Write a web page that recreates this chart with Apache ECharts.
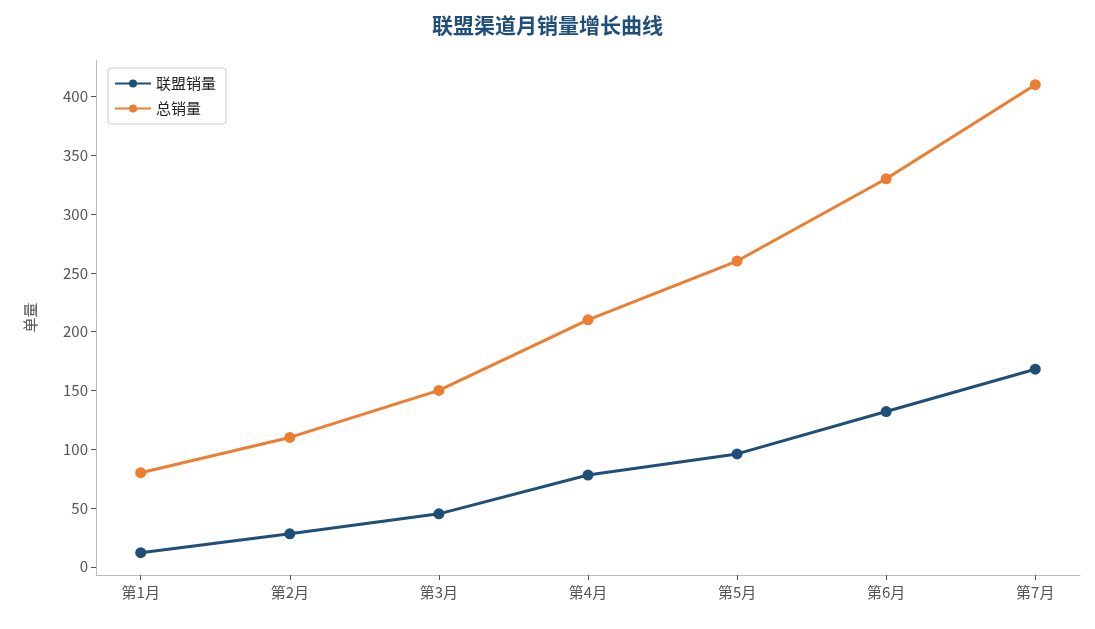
<!DOCTYPE html><html><head><meta charset="utf-8"><script src="https://cdn.jsdelivr.net/npm/echarts@6/dist/echarts.min.js"></script></head><body style="margin:0"><div id="c" style="width:1095px;height:629px"></div><script>
var categories=['第1月','第2月','第3月','第4月','第5月','第6月','第7月'];
var allianceSales=[12,28,45,78,96,132,168];
var totalSales=[80,110,150,210,260,330,410];
var yTicks=[0,50,100,150,200,250,300,350,400];
var ff='"Noto Sans CJK SC","Noto Sans",sans-serif';
var idx=categories.map(function(_,i){return i;});
var ch=echarts.init(document.getElementById('c'));
ch.setOption({
title:{text:'联盟渠道月销量增长曲线',left:'center',top:10,textStyle:{fontFamily:ff,fontSize:21,fontWeight:'bold',color:'#1f4e79'}},
legend:{left:108,top:68,orient:'vertical',itemWidth:36,itemHeight:10,itemGap:10,borderColor:'#ccc',borderWidth:1,borderRadius:3,padding:[8,10,8,6],textStyle:{fontFamily:ff,fontSize:15,color:'#222'},data:['联盟销量','总销量']},
grid:{left:96,right:15,top:60,bottom:54},
xAxis:{type:'value',min:-0.3,max:6.3,splitLine:{show:false},axisLine:{show:true,onZero:false,lineStyle:{color:'#bbb'}},
axisTick:{show:true,customValues:idx,lineStyle:{color:'#555'}},
axisLabel:{customValues:idx,formatter:function(v){return categories[Math.round(v)];},fontFamily:ff,fontSize:15,color:'#555',margin:10}},
yAxis:{type:'value',min:-7,max:431,name:'单量',nameLocation:'middle',nameGap:58,nameTextStyle:{fontFamily:ff,fontSize:15,color:'#555'},splitLine:{show:false},axisLine:{show:true,onZero:false,lineStyle:{color:'#bbb'}},
axisTick:{show:true,customValues:yTicks,lineStyle:{color:'#555'}},axisLabel:{customValues:yTicks,fontFamily:ff,fontSize:15,color:'#555'}},
series:[
{name:'联盟销量',type:'line',data:allianceSales.map(function(v,i){return [i,v];}),symbol:'circle',symbolSize:11,itemStyle:{color:'#1f4e79'},lineStyle:{width:3,color:'#1f4e79'}},
{name:'总销量',type:'line',data:totalSales.map(function(v,i){return [i,v];}),symbol:'circle',symbolSize:11,itemStyle:{color:'#ed7d31'},lineStyle:{width:3,color:'#ed7d31'}}
]});
</script></body></html>
